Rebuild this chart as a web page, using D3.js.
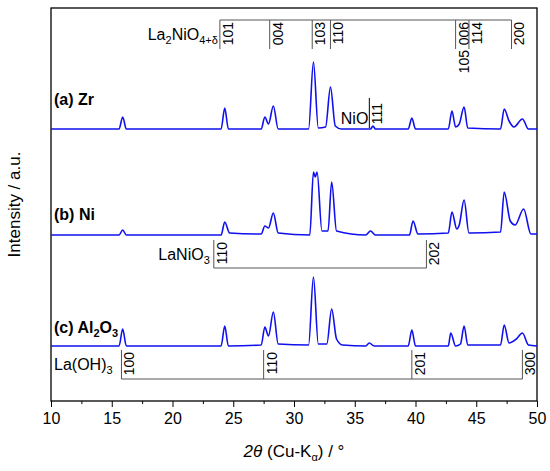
<!DOCTYPE html><html><head><meta charset="utf-8">
<script src="https://cdn.jsdelivr.net/npm/d3@7"></script>
<style>body{margin:0;background:#fff}text{font-family:"Liberation Sans",Arial,sans-serif}</style></head><body>
<svg id="c" width="550" height="471"></svg>
<script>
// intensity in arbitrary units (offset stacked)
const seriesA = [[10,272],[15.6,272],[15.9,284],[16.2,272],[24.0,272],[24.3,293],[24.6,272],[27.3,272],[27.6,284],[27.9,277],[28.3,295],[28.7,272],[31.2,272],[31.6,339],[32.0,273],[32.6,274],[33.0,314],[33.4,275],[33.9,272],[36.3,272],[36.5,275],[36.7,272],[39.4,272],[39.7,283],[40.0,272],[42.7,272],[43.0,290],[43.3,274],[43.6,277],[44.0,294],[44.3,273],[47.0,272],[47.3,292],[47.7,280],[48.1,274],[48.8,282],[49.3,272],[50,272]];
const seriesB = [[10,166],[15.6,166],[15.9,171],[16.2,166],[24.0,166],[24.3,179],[24.7,168],[27.3,167],[27.6,175],[27.9,173],[28.3,188],[28.7,168],[31.3,166],[31.6,229],[31.75,224],[31.9,229],[32.3,170],[32.8,170],[33.1,219],[33.5,170],[35.9,166],[36.3,170],[36.7,166],[39.5,166],[39.8,180],[40.2,167],[42.7,168],[43.0,189],[43.4,172],[43.6,176],[44.0,201],[44.4,168],[47.0,169],[47.3,209],[47.8,180],[48.2,176],[48.9,192],[49.5,167],[50,167]];
const seriesC = [[10,55],[15.6,55],[15.9,72],[16.2,55],[24.0,55],[24.3,75],[24.6,55],[27.3,56],[27.6,74],[27.9,65],[28.3,89],[28.7,57],[31.2,56],[31.6,124],[32.0,57],[32.7,57],[33.1,92],[33.5,62],[34.0,56],[35.9,55],[36.2,58],[36.6,55],[39.4,55],[39.7,71],[40.0,55],[42.7,55],[42.9,68],[43.3,55],[43.7,57],[44.0,75],[44.3,56],[47.0,56],[47.3,76],[47.7,58],[48.3,62],[48.8,68],[49.3,56],[50,55]];
const series = [seriesA, seriesB, seriesC];
const sampleLabels = ["(a) Zr","(b) Ni","(c) Al"];
const xTicks = [10,15,20,25,30,35,40,45,50];
const la2Lines = [23.9,28.0,31.5,33.0,43.3,44.4,47.9];
const la2Labels = ["101","004","103","110","006","114","200"];
const nioLines = [36.2]; const nioLabels = ["111"];
const lanioLines = [23.4,40.9]; const lanioLabels = ["110","202"];
const laohLines = [15.8,27.5,39.7,48.8]; const laohLabels = ["100","110","201","300"];

const svg = d3.select("#c");
const L=51,R=537,T=8,B=401;
const x = d3.scaleLinear().domain([10,50]).range([L,R]);
const y = d3.scaleLinear().domain([0,393]).range([B,T]);
svg.append("rect").attr("x",L).attr("y",T).attr("width",R-L).attr("height",B-T).attr("fill","none").attr("stroke","#000").attr("stroke-width",1.3);
const ax = svg.append("g").attr("transform",`translate(0,${B})`)
 .call(d3.axisBottom(x).tickValues(xTicks).tickSize(6).tickSizeOuter(0));
ax.select(".domain").remove();
ax.selectAll("text").attr("font-size",16).attr("dy","0.9em").attr("font-family","Liberation Sans");
svg.append("g").attr("transform",`translate(0,${B})`)
 .call(d3.axisBottom(x).tickValues(d3.range(12.5,50,5)).tickSize(3).tickFormat(""))
 .select(".domain").remove();
const line = d3.line().x(d=>x(d[0])).y(d=>y(d[1])).curve(d3.curveMonotoneX);
series.forEach(s=>svg.append("path").attr("d",line(s)).attr("fill","none").attr("stroke","#1010ee").attr("stroke-width",1.6));
const labY=[99,214,327];
sampleLabels.forEach((t,i)=>{const e=svg.append("text").attr("x",54).attr("y",labY[i]+6).attr("font-size",16).attr("font-weight","bold").text(t);
 if(i==2){e.append("tspan").attr("font-size",11).attr("dy",4).text("2");e.append("tspan").attr("dy",-4).text("O");e.append("tspan").attr("font-size",11).attr("dy",4).text("3");}});
svg.append("text").attr("transform",`translate(20,${(T+B)/2}) rotate(-90)`).attr("text-anchor","middle").attr("font-size",17).text("Intensity / a.u.");
const xt = svg.append("text").attr("x",(L+R)/2).attr("y",457).attr("text-anchor","middle").attr("font-size",17);
xt.append("tspan").attr("font-style","italic").text("2θ");
xt.append("tspan").text(" (Cu-K");
xt.append("tspan").attr("font-size",11).attr("dy",4).text("α");
xt.append("tspan").attr("dy",-4).text(") / °");
const gray="#555";
function vlab(xp,yTop,txt){svg.append("text").attr("transform",`translate(${xp+13},${yTop}) rotate(-90)`).attr("text-anchor","end").attr("font-size",14).text(txt);}
// La2NiO4
svg.append("line").attr("x1",x(la2Lines[0])).attr("x2",x(la2Lines[6])).attr("y1",20).attr("y2",20).attr("stroke",gray);
la2Lines.forEach((v,i)=>{svg.append("line").attr("x1",x(v)).attr("x2",x(v)).attr("y1",20).attr("y2",49).attr("stroke",gray);vlab(x(v),22,la2Labels[i]);});
vlab(x(la2Lines[4]),50,"105");
const t1=svg.append("text").attr("x",x(la2Lines[0])-2).attr("y",40).attr("text-anchor","end").attr("font-size",16);
t1.append("tspan").text("La");t1.append("tspan").attr("font-size",11).attr("dy",4).text("2");
t1.append("tspan").attr("dy",-4).text("NiO");t1.append("tspan").attr("font-size",11).attr("dy",4).text("4+δ");
// NiO
nioLines.forEach((v,i)=>{svg.append("line").attr("x1",x(v)).attr("x2",x(v)).attr("y1",98).attr("y2",128).attr("stroke","#000");vlab(x(v),103,nioLabels[i]);});
svg.append("text").attr("x",x(nioLines[0])-1).attr("y",124).attr("text-anchor","end").attr("font-size",16).text("NiO");
// LaNiO3
svg.append("line").attr("x1",x(lanioLines[0])).attr("x2",x(lanioLines[1])).attr("y1",268).attr("y2",268).attr("stroke",gray);
lanioLines.forEach((v,i)=>{svg.append("line").attr("x1",x(v)).attr("x2",x(v)).attr("y1",240).attr("y2",268).attr("stroke",gray);vlab(x(v),242,lanioLabels[i]);});
const t2=svg.append("text").attr("x",x(lanioLines[0])-4).attr("y",260).attr("text-anchor","end").attr("font-size",16);
t2.append("tspan").text("LaNiO");t2.append("tspan").attr("font-size",11).attr("dy",4).text("3");
// La(OH)3
svg.append("line").attr("x1",x(laohLines[0])).attr("x2",x(laohLines[3])).attr("y1",379).attr("y2",379).attr("stroke",gray);
laohLines.forEach((v,i)=>{svg.append("line").attr("x1",x(v)).attr("x2",x(v)).attr("y1",350).attr("y2",379).attr("stroke",gray);vlab(x(v),352,laohLabels[i]);});
const t3=svg.append("text").attr("x",54).attr("y",370).attr("font-size",16);
t3.append("tspan").text("La(OH)");t3.append("tspan").attr("font-size",11).attr("dy",4).text("3");
</script></body></html>
